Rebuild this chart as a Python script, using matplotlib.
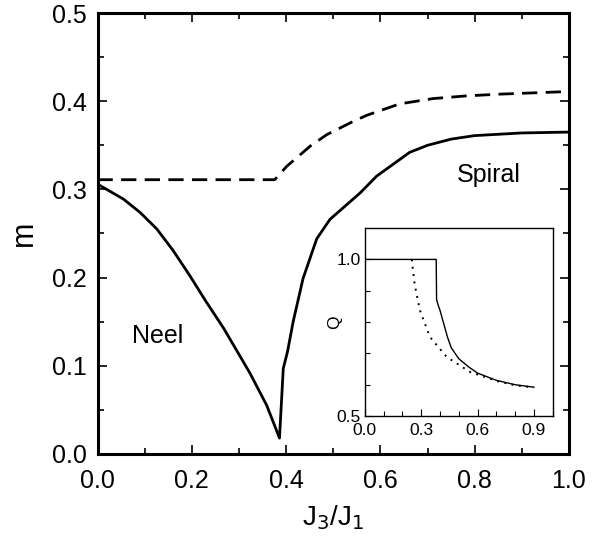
import numpy as np
import matplotlib.pyplot as plt
from matplotlib.ticker import MultipleLocator

plt.rcParams['font.family'] = ['Liberation Sans', 'DejaVu Sans']

# main panel: staggered magnetization m vs J3/J1
x_solid = [0.0, 0.055, 0.09, 0.126, 0.16, 0.196, 0.23, 0.267, 0.30, 0.324,
           0.359, 0.386, 0.391, 0.394, 0.403, 0.415, 0.436, 0.465, 0.493,
           0.557, 0.592, 0.662, 0.70, 0.75, 0.80, 0.90, 1.0]
m_solid = [0.306, 0.289, 0.274, 0.255, 0.231, 0.202, 0.173, 0.143, 0.113, 0.091,
           0.055, 0.018, 0.067, 0.097, 0.116, 0.150, 0.199, 0.244, 0.266,
           0.296, 0.315, 0.342, 0.350, 0.357, 0.361, 0.364, 0.365]

x_dash = [0.0, 0.376, 0.401, 0.451, 0.486, 0.542, 0.571, 0.641, 0.712, 0.782, 0.853, 1.0]
m_dash = [0.311, 0.311, 0.326, 0.349, 0.362, 0.377, 0.384, 0.397, 0.403, 0.406, 0.408, 0.411]

# inset: Q vs J3/J1
xq_solid = [0.0, 0.38, 0.382, 0.39, 0.40, 0.42, 0.44, 0.46, 0.50, 0.55,
            0.60, 0.70, 0.80, 0.90]
q_solid = [1.0, 1.0, 0.872, 0.855, 0.838, 0.795, 0.752, 0.718, 0.683, 0.658,
           0.637, 0.614, 0.600, 0.592]
xq_dot = [0.25, 0.254, 0.266, 0.293, 0.346, 0.435, 0.559, 0.70, 0.8, 0.9]
q_dot = [1.0, 0.977, 0.918, 0.838, 0.753, 0.689, 0.641, 0.612, 0.598, 0.591]

fig = plt.figure(figsize=(6.06, 5.4), dpi=100)
ax = fig.add_axes([0.1609, 0.1593, 0.778, 0.8166])

ax.plot(x_solid, m_solid, color='black', lw=2.0)
ax.plot(x_dash, m_dash, color='black', lw=2.0, dashes=(5.5, 3))

ax.set_xlim(0, 1.0)
ax.set_ylim(0, 0.5)
ax.xaxis.set_major_locator(MultipleLocator(0.2))
ax.xaxis.set_minor_locator(MultipleLocator(0.1))
ax.yaxis.set_major_locator(MultipleLocator(0.1))
ax.yaxis.set_minor_locator(MultipleLocator(0.05))
ax.xaxis.set_major_formatter(plt.FormatStrFormatter('%.1f'))
ax.yaxis.set_major_formatter(plt.FormatStrFormatter('%.1f'))
ax.tick_params(which='both', direction='in', top=True, right=True, width=1.2)
ax.tick_params(which='major', length=6.5, labelsize=18)
ax.tick_params(which='minor', length=4)
ax.tick_params(axis='x', which='major', pad=11)
ax.tick_params(axis='y', which='major', pad=8)
for s in ax.spines.values():
    s.set_linewidth(2.2)

ax.set_xlabel('J$_3$/J$_1$', fontsize=20, labelpad=7)
ax.set_ylabel('m', fontsize=22, labelpad=9)

ax.text(0.128, 0.134, 'Neel', fontsize=18, ha='center', va='center')
ax.text(0.83, 0.316, 'Spiral', fontsize=18, ha='center', va='center')

# inset
ins = fig.add_axes([0.602, 0.2296, 0.310, 0.348])
ins.plot(xq_solid, q_solid, color='black', lw=1.0)
ins.plot(xq_dot, q_dot, color='black', lw=1.4, linestyle=(0, (1, 2.8)))
ins.set_xlim(0, 1.0)
ins.set_ylim(0.5, 1.1)
ins.set_xticks([0.0, 0.3, 0.6, 0.9])
ins.set_xticklabels(['0.0', '0.3', '0.6', '0.9'])
ins.xaxis.set_minor_locator(MultipleLocator(0.1))
ins.set_yticks([0.5, 1.0])
ins.set_yticklabels(['0.5', '1.0'])
ins.set_yticks([0.6, 0.7, 0.8, 0.9], minor=True)
ins.tick_params(which='both', direction='in', width=0.8)
ins.tick_params(which='major', length=5, labelsize=12.5, pad=3)
ins.tick_params(axis='x', which='major', pad=5)
ins.tick_params(which='minor', length=3.5)
for s in ins.spines.values():
    s.set_linewidth(1.0)
ins.set_ylabel('Q', fontsize=12.5, labelpad=-4)

fig.savefig('out.png', dpi=100)
